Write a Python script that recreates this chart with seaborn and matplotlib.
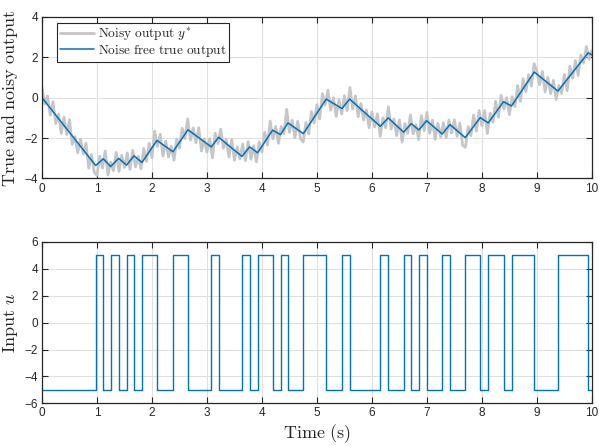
import numpy as np
import pandas as pd
import matplotlib
matplotlib.use("Agg")
import matplotlib.pyplot as plt
import seaborn as sns

# ---------------- data ----------------
# noise-free true output: breakpoints (time, value)
true_t = [0.0, 0.976, 1.115, 1.248, 1.394, 1.539, 1.673, 1.818, 2.091, 2.382,
          2.655, 3.079, 3.212, 3.636, 3.776, 3.921, 4.194, 4.339, 4.473, 4.752,
          5.170, 5.455, 5.594, 6.152, 6.297, 6.576, 6.715, 6.855, 6.994, 7.279,
          7.418, 7.697, 7.970, 8.115, 8.394, 8.539, 8.952, 9.382, 9.933, 10.0]
true_y = [0.00, -3.36, -3.03, -3.41, -3.01, -3.34, -2.88, -3.21, -2.12, -2.68,
          -1.59, -2.44, -1.96, -2.91, -2.44, -2.73, -1.61, -1.83, -1.25, -1.78,
          -0.07, -0.54, -0.07, -1.42, -1.00, -1.71, -1.29, -1.60, -1.14, -1.80,
          -1.33, -1.98, -0.99, -1.25, -0.20, -0.41, 1.27, 0.33, 2.22, 2.12]

# noisy measured output y*, sampled every 0.05 s from 0 to 10 s
noisy_t = [round(0.05 * k, 2) for k in range(201)]
noisy_y = [0.50, -0.31, 0.08, -0.87, -0.20, -1.28, -0.82, -1.77, -0.96, -1.83,
           -1.09, -2.31, -1.93, -2.73, -2.06, -2.79, -2.26, -3.49, -2.82, -3.69,
           -3.85, -2.90, -3.49, -2.64, -3.83, -3.19, -3.62, -2.71, -3.65, -2.86,
           -3.46, -2.74, -3.55, -2.61, -3.43, -2.91, -3.52, -2.52, -3.16, -2.26,
           -2.97, -1.65, -2.42, -1.81, -2.89, -2.15, -2.94, -2.41, -3.10, -2.06,
           -2.49, -1.52, -2.02, -1.05, -2.10, -1.50, -2.23, -1.49, -2.64, -2.04,
           -2.70, -2.03, -2.99, -1.76, -2.28, -1.56, -2.51, -2.06, -2.94, -2.07,
           -3.10, -2.44, -3.04, -2.30, -3.12, -2.18, -3.05, -2.38, -3.18, -2.19,
           -2.69, -1.71, -2.35, -1.16, -2.04, -1.42, -2.26, -1.43, -1.78, -0.58,
           -1.72, -1.12, -1.98, -1.17, -2.03, -2.20, -1.23, -1.80, -0.69, -1.25,
           -0.35, -1.05, 0.20, -0.36, 0.37, -0.62, 0.00, -0.93, -0.10, -0.81,
           0.10, -0.64, 0.50, -0.56, 0.09, -0.94, -0.29, -1.11, -0.60, -1.49,
           -0.70, -1.45, -0.80, -1.91, -1.00, -1.49, -0.45, -1.55, -1.05, -1.88,
           -1.10, -2.20, -1.29, -1.77, -0.85, -1.79, -1.34, -2.08, -0.89, -1.64,
           -0.73, -1.76, -1.11, -2.06, -1.27, -1.94, -1.24, -1.98, -1.11, -1.75,
           -1.10, -1.92, -1.26, -2.36, -2.46, -1.44, -1.88, -0.86, -1.66, -0.64,
           -1.39, -0.64, -1.78, -0.77, -1.21, -0.18, -0.97, 0.12, -0.56, 0.00,
           -0.84, 0.05, -0.44, 0.60, -0.18, 0.94, 0.30, 1.14, 0.57, 1.68,
           1.30, 0.64, 1.30, 0.28, 1.01, 0.20, 0.86, -0.09, 0.60, 0.21,
           1.15, 0.34, 1.56, 0.97, 1.84, 1.10, 2.11, 1.72, 2.53, 1.91,
           2.33]

# input u: switching instants and level held from each instant on
u_t = [0.0, 0.976, 1.115, 1.248, 1.394, 1.539, 1.673, 1.818, 2.091, 2.382,
       2.655, 3.079, 3.212, 3.636, 3.776, 3.921, 4.194, 4.339, 4.473, 4.752,
       5.170, 5.455, 5.594, 6.152, 6.297, 6.576, 6.715, 6.855, 6.994, 7.279,
       7.418, 7.697, 7.970, 8.115, 8.394, 8.539, 8.952, 9.382, 9.933, 10.0]
u_val = [-5, 5, -5, 5, -5, 5, -5, 5, -5, 5,
         -5, 5, -5, 5, -5, 5, -5, 5, -5, 5,
         -5, 5, -5, 5, -5, 5, -5, 5, -5, 5,
         -5, 5, -5, 5, -5, 5, -5, 5, -5, -5]

x_ticks = [0, 1, 2, 3, 4, 5, 6, 7, 8, 9, 10]
y1_ticks = [-4, -2, 0, 2, 4]
y2_ticks = [-6, -4, -2, 0, 2, 4, 6]

# ---------------- style ----------------
sns.set_theme(style="whitegrid")
plt.rcParams["font.family"] = ["Liberation Sans", "DejaVu Sans"]
plt.rcParams["mathtext.fontset"] = "cm"

BLUE = "#0072BD"
GRAY = "#c6c6c6"
EDGE = "#262626"

fig = plt.figure(figsize=(5.99, 4.46), dpi=100)
ax1 = fig.add_axes([0.0701, 0.600, 0.918, 0.362])
ax2 = fig.add_axes([0.0701, 0.0957, 0.918, 0.362])

df_noisy = pd.DataFrame({"t": noisy_t, "y": noisy_y})
df_true = pd.DataFrame({"t": true_t, "y": true_y})
df_u = pd.DataFrame({"t": u_t, "u": u_val})

sns.lineplot(data=df_noisy, x="t", y="y", ax=ax1, color=GRAY, lw=2.0,
             sort=False, estimator=None, label=r"$\mathrm{Noisy\ output}\ y^{*}$")
sns.lineplot(data=df_true, x="t", y="y", ax=ax1, color=BLUE, lw=1.1,
             sort=False, estimator=None, label=r"$\mathrm{Noise\ free\ true\ output}$")
sns.lineplot(data=df_u, x="t", y="u", ax=ax2, color=BLUE, lw=1.0,
             sort=False, estimator=None, drawstyle="steps-post")

for ax, yt in ((ax1, y1_ticks), (ax2, y2_ticks)):
    ax.set_xlim(0, 10)
    ax.set_ylim(yt[0], yt[-1])
    ax.set_xticks(x_ticks)
    ax.set_yticks(yt)
    ax.set_facecolor("white")
    ax.grid(True, color="#e0e0e0", lw=0.8)
    for s in ax.spines.values():
        s.set_visible(True)
        s.set_color(EDGE)
        s.set_linewidth(0.9)
    ax.tick_params(direction="in", length=4, width=0.8, colors=EDGE,
                   top=True, right=True, bottom=True, left=True,
                   labelsize=8.5, pad=3)
    ax.set_xlabel("")

ax1.set_ylabel(r"$\mathrm{True\ and\ noisy\ output}$", fontsize=13, labelpad=3)
ax2.set_ylabel(r"$\mathrm{Input}\ u$", fontsize=13, labelpad=3)
ax2.set_xlabel(r"$\mathrm{Time\ (s)}$", fontsize=13, labelpad=2)

leg = ax1.legend(loc="upper left", bbox_to_anchor=(0.027, 0.96),
                 prop={"size": 9.6}, frameon=True,
                 fancybox=False, framealpha=1, edgecolor=EDGE,
                 borderpad=0.2, handlelength=2.6, handletextpad=0.25,
                 labelspacing=0.0, borderaxespad=0.0)
leg.get_frame().set_linewidth(0.8)

fig.savefig("out.png", dpi=100)
